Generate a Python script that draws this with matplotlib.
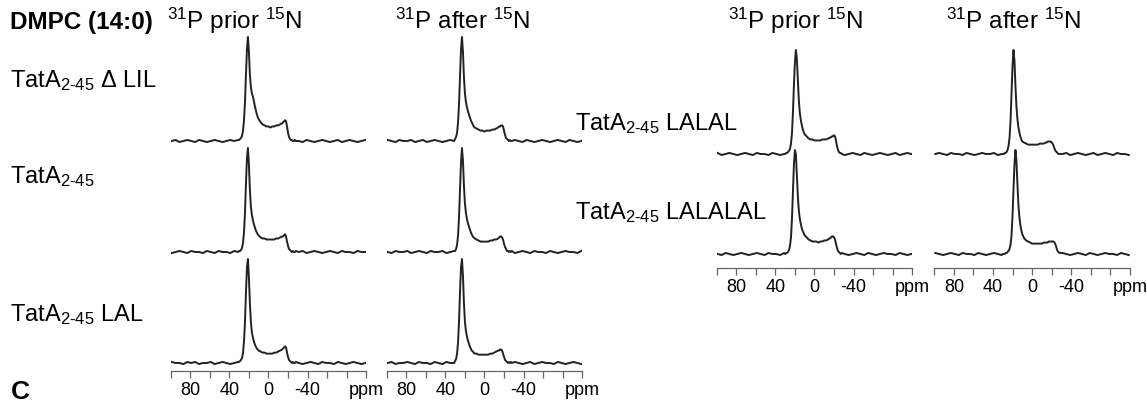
import matplotlib
matplotlib.use("Agg")
import matplotlib.pyplot as plt

plt.rcParams['font.family'] = ['Liberation Sans', 'DejaVu Sans']
plt.rcParams['mathtext.fontset'] = 'custom'
plt.rcParams['mathtext.rm'] = 'Liberation Sans'
plt.rcParams['mathtext.it'] = 'Liberation Sans:italic'
plt.rcParams['mathtext.bf'] = 'Liberation Sans:bold'

# chemical shift grid (ppm), shared by all spectra
ppm = [99, 95, 91, 87, 83, 79, 75, 71, 67, 63, 59, 55, 51, 47, 43, 39, 35, 31,
       30, 29, 28, 27, 26, 25, 24, 23, 22, 21, 20, 19, 18, 17, 16, 15, 14, 13, 12, 11, 10,
       8, 6, 4, 2, 0, -2, -4, -6, -8, -10, -12, -14,
       -15, -16, -17, -18, -19, -20, -21, -22, -23, -24, -25, -26, -27, -28,
       -31, -35, -39, -43, -47, -51, -55, -59, -63, -67, -71, -75, -79, -83, -87, -91, -95, -99]

# intensities in % of main peak
dlil_prior = [0, 1, -1, 0, 1, 0, -1, 1, 0, -1, 0, 1, 0, -1, 0, 1, 0, 1,
              1, 2, 3, 5, 10, 20, 38, 64, 88, 100, 86, 64, 52, 46, 43, 39, 34, 30, 26, 23, 21,
              18, 16, 15, 14, 14, 13, 14, 14, 15, 15, 16, 17,
              18, 19, 20, 19, 14, 8, 4, 2, 1, 1, 0, 0, 1, 0,
              0, -1, 1, 0, -1, 0, 1, 0, -1, 0, 1, -1, 0, 1, 0, -1, 0, 1]
dlil_after = [1, 0, -1, 1, 0, 0, 1, -1, 0, 1, -1, 0, 1, 0, -1, 0, 1, 0,
              2, 4, 8, 18, 36, 62, 88, 100, 86, 62, 46, 38, 33, 29, 26, 23, 20, 18, 16, 14, 13,
              12, 11, 10, 10, 9, 10, 10, 10, 11, 11, 12, 13,
              14, 14, 15, 15, 14, 10, 6, 3, 2, 1, 0, 1, 0, 0,
              1, 0, -1, 1, 0, -1, 0, 1, 0, -1, 0, 1, 0, -1, 1, 0, -1, 0]
wt_prior = [-1, 0, 1, 0, -1, 1, 0, 0, -1, 1, 0, -1, 1, 0, 0, -1, 1, 0,
            1, 1, 2, 4, 9, 19, 38, 66, 90, 100, 84, 60, 44, 36, 31, 27, 24, 21, 19, 17, 16,
            14, 13, 13, 12, 12, 12, 12, 12, 13, 13, 14, 15,
            15, 16, 17, 15, 10, 6, 3, 2, 1, 0, 1, 0, 0, 1,
            0, 1, -1, 0, 1, 0, -1, 0, 1, 0, -1, 1, 0, 0, -1, 1, 0, 0]
wt_after = [0, -1, 1, 0, 0, 1, -1, 0, 1, 0, -1, 1, 0, 0, 1, -1, 0, 1,
            1, 3, 7, 16, 34, 60, 86, 100, 88, 64, 47, 38, 32, 28, 25, 22, 19, 17, 15, 14, 13,
            12, 11, 10, 10, 10, 10, 10, 11, 11, 12, 12, 13,
            14, 15, 15, 14, 12, 8, 5, 3, 1, 1, 0, 1, 0, 1,
            -1, 0, 1, 0, -1, 1, 0, 0, -1, 1, 0, -1, 0, 1, 0, 0, -1, 1]
lal_prior = [1, 0, 0, -1, 1, 0, 1, -1, 0, 0, 1, -1, 0, 1, 0, -1, 0, 1,
             1, 2, 3, 5, 10, 21, 40, 68, 92, 100, 82, 58, 40, 30, 25, 21, 18, 16, 14, 13, 12,
             11, 10, 10, 9, 9, 9, 9, 10, 10, 11, 12, 13,
             14, 15, 16, 15, 10, 6, 3, 2, 1, 0, 1, 0, 0, 1,
             0, -1, 0, 1, 0, -1, 1, 0, 0, -1, 1, 0, -1, 0, 1, 0, -1, 0]
lal_after = [0, 1, -1, 0, 0, 1, 0, -1, 1, 0, 0, -1, 1, 0, -1, 1, 0, 0,
             2, 4, 9, 20, 40, 68, 92, 100, 84, 58, 40, 31, 26, 22, 19, 16, 14, 12, 11, 10, 9,
             9, 8, 8, 8, 8, 8, 8, 9, 9, 10, 11, 12,
             12, 13, 13, 12, 9, 6, 3, 2, 1, 0, 1, 0, 1, 0,
             1, 0, -1, 0, 1, -1, 0, 1, 0, 0, -1, 1, 0, -1, 0, 1, 0, -1]
lalal_prior = [1, -1, 0, 1, 0, -1, 0, 1, 0, -1, 1, 0, 0, -1, 1, 0, -1, 0,
               0, 1, 1, 2, 3, 5, 10, 20, 40, 66, 88, 100, 92, 72, 52, 40, 33, 28, 24, 21, 19,
               17, 15, 14, 14, 13, 13, 13, 13, 14, 14, 14, 15,
               15, 16, 16, 17, 17, 18, 17, 13, 8, 4, 2, 1, 1, 0,
               -1, 0, 1, 0, -1, 1, 0, -1, 0, 1, 0, -1, 0, 1, -1, 0, 1, 0]
lalal_after = [0, 1, 0, -1, 1, 0, 0, -1, 1, 0, -1, 0, 1, 0, 0, 1, -1, 0,
               0, 0, 1, 1, 2, 4, 8, 16, 32, 58, 84, 100, 90, 66, 46, 34, 26, 21, 17, 14, 12,
               11, 10, 9, 9, 9, 9, 9, 9, 10, 10, 10, 11,
               11, 12, 12, 12, 12, 11, 10, 8, 5, 3, 2, 1, 0, 0,
               0, 1, -1, 0, 1, 0, -1, 0, 1, -1, 0, 1, 0, -1, 1, 0, 0, -1]
lalalal_prior = [0, -1, 1, 0, -1, 0, 1, 0, -1, 0, 1, 0, -1, 1, 0, 0, -1, 1,
                 0, 1, 1, 2, 4, 8, 16, 34, 60, 86, 100, 96, 76, 56, 42, 34, 29, 25, 22, 20, 18,
                 16, 14, 13, 12, 12, 12, 11, 12, 12, 13, 13, 14,
                 15, 15, 16, 17, 17, 16, 14, 10, 6, 3, 2, 1, 0, 1,
                 0, -1, 0, 1, 0, -1, 1, 0, -1, 0, 1, 0, 0, -1, 1, 0, -1, 0]
lalalal_after = [1, 0, -1, 0, 1, 0, -1, 1, 0, 0, -1, 1, 0, -1, 0, 1, 0, -1,
                 0, 0, 0, 1, 1, 2, 3, 5, 9, 18, 36, 62, 86, 100, 90, 68, 48, 36, 28, 23, 19,
                 15, 13, 12, 11, 10, 10, 10, 10, 10, 10, 11, 11,
                 11, 11, 12, 12, 12, 12, 12, 12, 11, 9, 6, 3, 2, 1,
                 1, 0, -1, 0, 1, 0, -1, 1, 0, -1, 0, 1, 0, 0, -1, 1, 0, -1]

left_labels = ['TatA$_\\mathrm{2\\text{-}45}$ Δ LIL', 'TatA$_\\mathrm{2\\text{-}45}$',
               'TatA$_\\mathrm{2\\text{-}45}$ LAL']
right_labels = ['TatA$_\\mathrm{2\\text{-}45}$ LALAL', 'TatA$_\\mathrm{2\\text{-}45}$ LALALAL']
col_titles = ['$^{31}$P prior $^{15}$N', '$^{31}$P after $^{15}$N']

left_prior = [dlil_prior, wt_prior, lal_prior]
left_after = [dlil_after, wt_after, lal_after]
right_prior = [lalal_prior, lalalal_prior]
right_after = [lalal_after, lalalal_after]

W, H = 1147, 402
fig = plt.figure(figsize=(W / 100, H / 100), dpi=100)

ticks = list(range(100, -101, -20))
ticklabels = ['', '80', '', '40', '', '0', '', '-40', '', '', 'ppm']
scale = 1.04  # px per % intensity


def column(x0, y_axis, y_top, offsets, spectra):
    ax = fig.add_axes([x0 / W, (H - y_axis) / H, 195.5 / W, (y_axis - y_top) / H])
    for off, s in zip(offsets, spectra):
        ax.plot(ppm, [off + scale * v for v in s], color='#222222', lw=1.4)
    ax.set_xlim(100, -100)
    ax.set_ylim(0, y_axis - y_top)
    for sp in ['top', 'left', 'right']:
        ax.spines[sp].set_visible(False)
    ax.spines['bottom'].set_color('#666666')
    ax.spines['bottom'].set_linewidth(0.9)
    ax.set_yticks([])
    ax.set_xticks(ticks)
    ax.set_xticklabels(ticklabels)
    ax.tick_params(axis='x', direction='out', length=5, width=0.9, color='#666666',
                   labelsize=13, pad=2)
    ax.patch.set_alpha(0)
    return ax


# left block: axis at y=372 px, baselines at 142, 253, 364 px
column(170.7, 372, 30, [230, 119, 8], left_prior)
column(386.7, 372, 30, [230, 119, 8], left_after)
# right block: axis at y=269 px, baselines at 155, 255 px
column(716.7, 269, 40, [114, 14], right_prior)
column(934.3, 269, 40, [114, 14], right_after)


def px_text(x, y, s, **kw):
    fig.text(x / W, (H - y) / H, s, va='baseline', ha='left', **kw)


px_text(10, 28.5, 'DMPC (14:0)', fontsize=17.5, fontweight='bold')
px_text(167, 29, col_titles[0], fontsize=17.5)
px_text(395, 29, col_titles[1], fontsize=17.5)
px_text(728, 29, col_titles[0], fontsize=17.5)
px_text(946, 29, col_titles[1], fontsize=17.5)

for lab, y in zip(left_labels, [87, 183, 321.5]):
    px_text(10, y, lab, fontsize=17)
for lab, y in zip(right_labels, [130, 219]):
    px_text(575, y, lab, fontsize=17)

px_text(11, 399, 'C', fontsize=19, fontweight='bold')

fig.savefig('out.png', dpi=100)
